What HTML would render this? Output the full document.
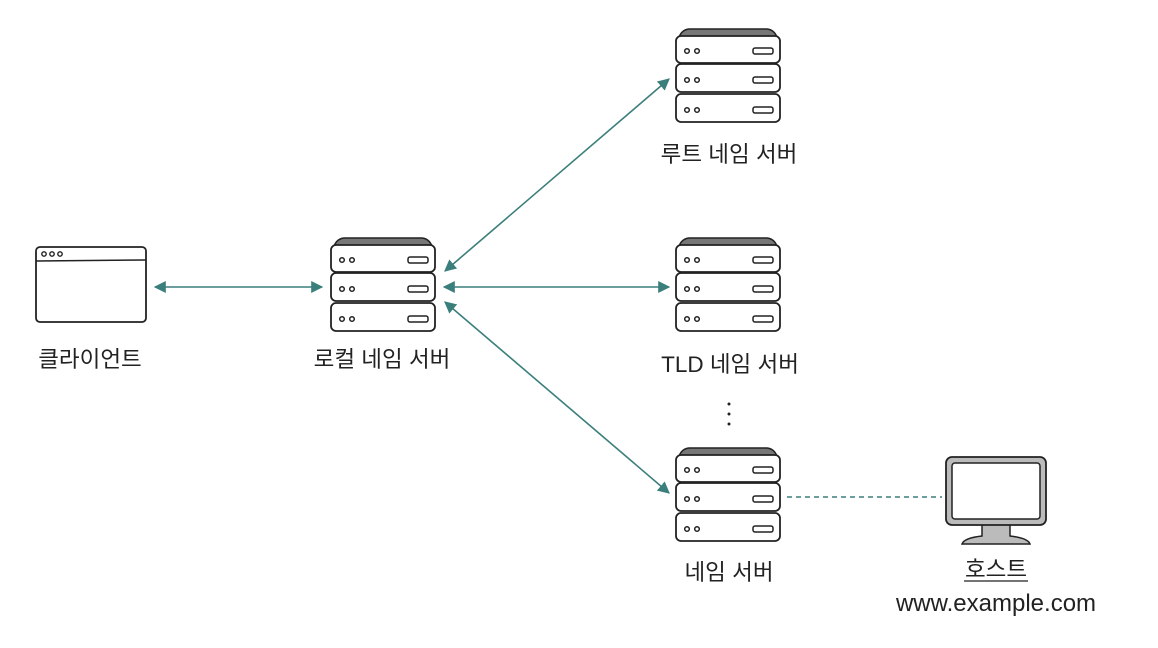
<!DOCTYPE html>
<html><head><meta charset="utf-8"><style>
html,body{margin:0;padding:0;background:#fff;}
svg{display:block}
text{font-family:"Liberation Sans","Noto Sans CJK KR",sans-serif;font-size:22.5px;fill:#222;}
</style></head><body>
<svg width="1158" height="648" viewBox="0 0 1158 648" xmlns="http://www.w3.org/2000/svg">
<defs>
<marker id="ah" viewBox="0 0 10 10" refX="9" refY="5" markerWidth="12" markerHeight="12" orient="auto-start-reverse" markerUnits="userSpaceOnUse">
<path d="M0,0 L10,5 L0,10 z" fill="#3a7f7b"/></marker>
<g id="srv">
<path d="M3,12 Q5,1 14,0 L92,0 Q101,1 103,12 Z" fill="#777" stroke="#222" stroke-width="1.5"/>
<g fill="#fff" stroke="#222" stroke-width="1.8">
<rect x="1" y="7" width="104" height="27" rx="5"/>
<rect x="1" y="35" width="104" height="28" rx="5"/>
<rect x="1" y="65" width="104" height="28" rx="5"/>
</g>
<g fill="none" stroke="#222" stroke-width="1.5">
<circle cx="12" cy="22" r="2.3"/><circle cx="22" cy="22" r="2.3"/><rect x="78" y="19" width="20" height="6" rx="2"/>
<circle cx="12" cy="51" r="2.3"/><circle cx="22" cy="51" r="2.3"/><rect x="78" y="48" width="20" height="6" rx="2"/>
<circle cx="12" cy="81" r="2.3"/><circle cx="22" cy="81" r="2.3"/><rect x="78" y="78" width="20" height="6" rx="2"/>
</g>
</g>
</defs>

<rect x="36" y="247" width="110" height="75" rx="4" fill="#fff" stroke="#222" stroke-width="1.8"/>
<line x1="36" y1="261" x2="146" y2="260" stroke="#222" stroke-width="1.5"/>
<g fill="none" stroke="#222" stroke-width="1.4"><circle cx="44" cy="254" r="2.2"/><circle cx="52" cy="254" r="2.2"/><circle cx="60" cy="254" r="2.2"/></g>

<use href="#srv" x="330" y="238"/>
<use href="#srv" x="675" y="29"/>
<use href="#srv" x="675" y="238"/>
<use href="#srv" x="675" y="448"/>

<path d="M982,524 L982,536 Q964,538 962,544 L1030,544 Q1028,538 1010,536 L1010,524 Z" fill="#bbb" stroke="#222" stroke-width="1.5"/>
<rect x="946" y="457" width="100" height="68" rx="6" fill="#bbb" stroke="#222" stroke-width="1.8"/>
<rect x="952" y="463" width="88" height="56" rx="3" fill="#fff" stroke="#222" stroke-width="1.5"/>

<g stroke="#3a7f7b" stroke-width="1.6" fill="none">
<line x1="155" y1="287" x2="322" y2="287" marker-start="url(#ah)" marker-end="url(#ah)"/>
<line x1="445" y1="271" x2="669" y2="79" marker-start="url(#ah)" marker-end="url(#ah)"/>
<line x1="444" y1="287" x2="669" y2="287" marker-start="url(#ah)" marker-end="url(#ah)"/>
<line x1="445" y1="302" x2="669" y2="493" marker-start="url(#ah)" marker-end="url(#ah)"/>
<line x1="787" y1="497" x2="942" y2="497" stroke-dasharray="5,4"/>
</g>

<text x="90" y="367" text-anchor="middle">클라이언트</text>
<text x="382" y="367" text-anchor="middle">로컬 네임 서버</text>
<text x="729" y="162" text-anchor="middle">루트 네임 서버</text>
<text x="730" y="372" text-anchor="middle">TLD 네임 서버</text>
<g fill="#222"><circle cx="729" cy="404" r="1.5"/><circle cx="729" cy="414" r="1.5"/><circle cx="729" cy="424" r="1.5"/></g>
<text x="729" y="580" text-anchor="middle">네임 서버</text>
<text x="996" y="577" text-anchor="middle">호스트</text>
<line x1="964" y1="581" x2="1028" y2="581" stroke="#222" stroke-width="1.2"/>
<text x="996" y="611" text-anchor="middle" style="font-size:24px">www.example.com</text>
</svg>
</body></html>
